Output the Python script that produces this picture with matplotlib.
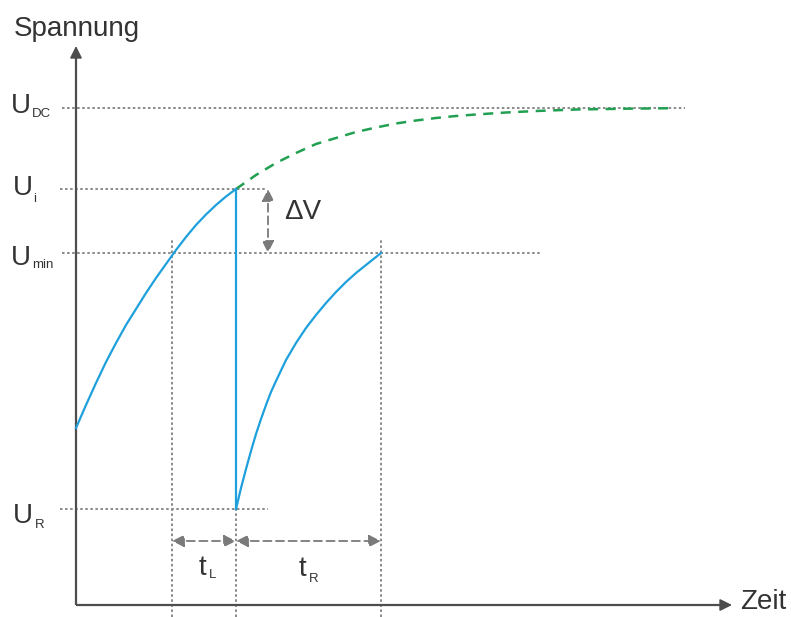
import matplotlib
matplotlib.use('Agg')
import matplotlib.pyplot as plt

plt.rcParams['font.family'] = ['Liberation Sans', 'DejaVu Sans']

# voltage levels, measured upward from the time axis
U_DC = 497
U_I = 416
U_MIN = 352
U_R = 96

# time marks, measured from the voltage axis
T_MIN = 96     # charge curve crosses U_min
T_SW = 160     # switching instant (drop to U_R)
T_END = 305    # recharge reaches U_min again

# first charging curve up to the switching instant
charge_t = [0, 10, 20, 30, 40, 50, 60, 70, 80, 90, 100, 110, 120, 130, 140, 150, 160]
charge_u = [177, 200, 222, 243, 262, 280, 296, 312, 327, 341, 355, 368, 380, 390.5, 400,
            408.5, 416]

# recharge after the drop
recharge_t = [160, 165, 170, 175, 180, 185, 190, 195, 200, 210, 220, 230, 240, 250,
              260, 270, 280, 290, 305]
recharge_u = [96, 117, 136, 154, 171, 186, 200, 213, 224, 245, 262, 277, 290, 302,
              313, 323, 332, 340, 352]

# undisturbed charging towards U_DC
ideal_t = [160, 180, 200, 220, 240, 260, 280, 300, 320, 340, 360, 380, 400, 430,
           460, 500, 550, 596]
ideal_u = [416, 430, 442, 452, 461, 467, 473, 477.5, 481.5, 484.5, 487, 489, 490.5,
           492.5, 494, 495.5, 496.3, 496.8]

BLUE = '#1ea0dc'
GREEN = '#22a052'
TEXT = '#333333'
AXIS = '#4d4d4d'
GRID = '#8a8a8a'
ARROW = '#7a7a7a'

fig = plt.figure(figsize=(7.91, 6.17), dpi=100)
ax = fig.add_axes([0, 0, 1, 1])
ax.set_xlim(-76, 715)
ax.set_ylim(-12, 605)
ax.axis('off')

dot = dict(color=GRID, lw=1.4, linestyle=(0, (1.3, 1.3)), zorder=1)

# horizontal guide lines
ax.plot([-14, 609], [U_DC, U_DC], **dot)
ax.plot([-16, 191], [U_I, U_I], **dot)
ax.plot([-14, 465], [U_MIN, U_MIN], **dot)
ax.plot([-16, 192], [U_R, U_R], **dot)

# vertical guide lines
ax.plot([T_MIN, T_MIN], [-12, 367], **dot)
ax.plot([T_SW, T_SW], [-12, U_R], **dot)
ax.plot([T_END, T_END], [-12, 367], **dot)

# axes with arrow heads
ax.plot([0, 0], [0, 549], color=AXIS, lw=1.6, zorder=3, solid_capstyle='butt')
ax.plot([0, 646], [0, 0], color=AXIS, lw=1.6, zorder=3, solid_capstyle='butt')
head = dict(arrowstyle='-|>', color=AXIS, lw=1.2, mutation_scale=18,
            shrinkA=0, shrinkB=0)
ax.annotate('', xy=(0, 559), xytext=(0, 540), arrowprops=head, zorder=3)
ax.annotate('', xy=(656, 0), xytext=(637, 0), arrowprops=head, zorder=3)

# curves
ax.plot(ideal_t, ideal_u, color=GREEN, lw=1.8, linestyle=(0, (4, 3)), zorder=2)
ax.plot(charge_t, charge_u, color=BLUE, lw=1.6, zorder=4)
ax.plot([T_SW, T_SW], [U_I, U_R], color=BLUE, lw=1.6, zorder=4)
ax.plot(recharge_t, recharge_u, color=BLUE, lw=1.6, zorder=4)

# dimension arrows
dim = dict(arrowstyle='<|-|>', color=ARROW, lw=1.3, linestyle=(0, (4.5, 2.5)),
           mutation_scale=18, shrinkA=0, shrinkB=0)
ax.annotate('', xy=(T_SW, 64), xytext=(T_MIN, 64), arrowprops=dim)
ax.annotate('', xy=(T_END, 64), xytext=(T_SW, 64), arrowprops=dim)
ax.annotate('', xy=(192, U_MIN), xytext=(192, U_I), arrowprops=dim)

# labels
big = 20
small = 9.5
ax.text(-62, 569, 'Spannung', fontsize=big, color=TEXT, va='baseline')
ax.text(664, -4, 'Zeit', fontsize=big, color=TEXT, va='baseline')
ax.text(208, 393, '\u0394V', fontsize=big, color=TEXT, va='center')

# (subscript, level, x of U, baseline drop of U, x of subscript, baseline drop of subscript)
u_labels = [('DC', U_DC, -65, 5, -44, 9),
            ('i', U_I, -63, 6, -43, 13),
            ('min', U_MIN, -65, 12, -44, 15),
            ('R', U_R, -63, 14, -41, 19)]
for sub, level, x, off, xs, sub_off in u_labels:
    ax.text(x, level - off, 'U', fontsize=big, color=TEXT, va='baseline')
    ax.text(xs, level - sub_off, sub, fontsize=small, color=TEXT, va='baseline')

ax.text(123, 30, 't', fontsize=big, color=TEXT, va='baseline')
ax.text(133, 27, 'L', fontsize=small, color=TEXT, va='baseline')
ax.text(223, 29, 't', fontsize=big, color=TEXT, va='baseline')
ax.text(233, 23, 'R', fontsize=small, color=TEXT, va='baseline')

fig.savefig('out.png', dpi=100, facecolor='white')
